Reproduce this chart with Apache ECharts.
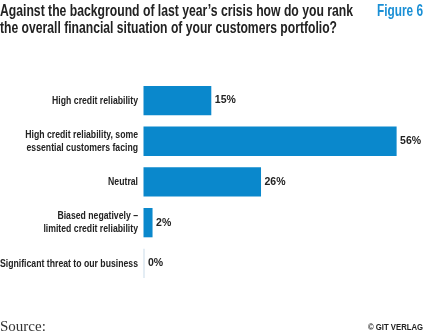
<!DOCTYPE html>
<html><head><meta charset="utf-8">
<script src="https://cdn.jsdelivr.net/npm/echarts@6/dist/echarts.min.js"></script>
<style>html,body{margin:0;padding:0;background:#fff}#c{width:425px;height:336px}</style>
</head><body><div id="c"></div>
<script>
var categories = ["High credit reliability", "High credit reliability, some\nessential customers facing", "Neutral", "Biased negatively –\nlimited credit reliability", "Significant threat to our business"];
var values = [15, 56, 26, 2, 0];
var titleLines = ["Against the background of last year’s crisis how do you rank", "the overall financial situation of your customers portfolio?"];
var F = '"Liberation Sans", sans-serif';
var cv = document.createElement('canvas').getContext('2d');
function textW(text, font) { cv.font = font; return cv.measureText(text).width; }
function fitScale(text, font, w) { return w / textW(text, font); }
var TF = 'bold 16.5px "Liberation Sans"';
var LF = 'bold 11.5px "Liberation Sans"';
var labelScale = fitScale(categories[4], LF, 138);
var chart = echarts.init(document.getElementById('c'), null, {renderer: 'canvas'});
chart.setOption({
  animation: false,
  grid: {left: 143.5, top: 80.2, width: 271.2, height: 203.5, outerBoundsMode: 'none'},
  xAxis: {type: 'value', min: 0, max: 60, show: false},
  yAxis: {type: 'category', inverse: true, data: categories,
    axisLine: {show: false}, axisTick: {show: false}, splitLine: {show: false},
    axisLabel: {show: false}},
  series: [{type: 'bar', data: values, barCategoryGap: '28%', barMinHeight: 1,
    itemStyle: {color: function (p) { return p.value === 0 ? '#c9dcea' : '#0a88cc'; }},
    label: {show: true, position: 'right', distance: 3.5, formatter: '{c}%', fontFamily: F, fontWeight: 'bold', fontSize: 10.5, color: '#222'}}]
});
var g = [
  {type: 'text', x: 0, y: 3, scaleX: fitScale(titleLines[0], TF, 353), style: {text: titleLines[0], font: TF, fill: '#222'}},
  {type: 'text', x: 0, y: 20, scaleX: fitScale(titleLines[1], TF, 337), style: {text: titleLines[1], font: TF, fill: '#222'}},
  {type: 'text', x: 377, y: 3, scaleX: fitScale('Figure 6', TF, 46), style: {text: 'Figure 6', font: TF, fill: '#1a8fd5'}},
  {type: 'text', x: 0, y: 320, style: {text: 'Source:', font: '15px "Liberation Serif", serif', fill: '#333'}},
  {type: 'text', x: 423, y: 328, scaleX: fitScale('© GIT VERLAG', 'bold 9px "Liberation Sans"', 55), style: {text: '© GIT VERLAG', font: 'bold 9px "Liberation Sans"', fill: '#222', align: 'right', verticalAlign: 'middle'}}
];
var axisX = chart.convertToPixel({xAxisIndex: 0}, 0);
categories.forEach(function (c, i) {
  var py = chart.convertToPixel({yAxisIndex: 0}, i);
  g.push({type: 'text', x: axisX - 5.5, y: py, scaleX: labelScale,
    style: {text: c, font: LF, fill: '#222', align: 'right', verticalAlign: 'middle', lineHeight: 12.7}});
});
chart.setOption({graphic: g});
</script></body></html>
